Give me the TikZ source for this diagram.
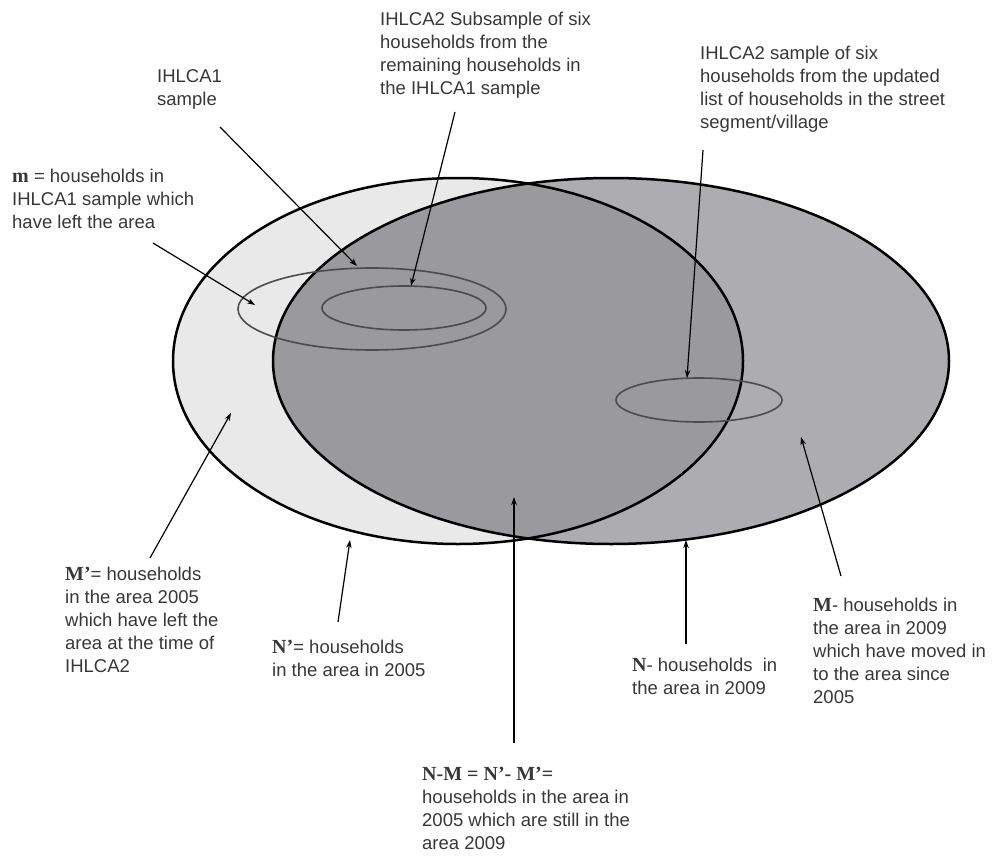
\documentclass[tikz,border=0pt]{standalone}
\usepackage{fontspec}
\setmainfont{Liberation Sans}
\newfontfamily\symfont{Liberation Serif}
\usetikzlibrary{arrows.meta}

\definecolor{oldarea}{RGB}{233,233,233}
\definecolor{newarea}{RGB}{173,173,177}
\definecolor{botharea}{RGB}{153,153,158}
\definecolor{txt}{RGB}{55,55,55}

\newcommand{\sym}[1]{{\symfont\bfseries\fontsize{20}{23}\selectfont #1}}

\begin{document}
\begin{tikzpicture}[
            x=1pt, y=-1pt,
            lab/.style={anchor=north west,inner sep=0pt,align=left,text=txt,
                        font=\fontsize{18.5}{23}\selectfont},
            border/.style={draw=black,line width=2.5pt},
            samp/.style={draw=black!70,line width=1.6pt},
            arr/.style={-{Stealth[length=8pt,width=5.5pt]},line width=1.2pt}
        ]

        \useasboundingbox (0,0) rectangle (995,856);

        % the two areas, 2005 (left) and 2009 (right)
        \fill[oldarea] (458,361) ellipse [x radius=285pt, y radius=183pt];
        \fill[newarea] (611,361) ellipse [x radius=338pt, y radius=183pt];
        \begin{scope}
            \clip (458,361) ellipse [x radius=285pt, y radius=183pt];
            \fill[botharea] (611,361) ellipse [x radius=338pt, y radius=183pt];
        \end{scope}
        \draw[border] (458,361) ellipse [x radius=285pt, y radius=183pt];
        \draw[border] (611,361) ellipse [x radius=338pt, y radius=183pt];

        % samples
        \draw[samp] (372,309) ellipse [x radius=134pt, y radius=41pt];
        \draw[samp] (404,308) ellipse [x radius=82pt, y radius=22pt];
        \draw[samp] (699,400) ellipse [x radius=83pt, y radius=22pt];

        % labels
        \node[lab] (ihlcaone) at (157,69) {IHLCA1\\sample};
        \node[lab] (subsample) at (380,12) {IHLCA2 Subsample of six\\households from the\\remaining households in\\the IHLCA1 sample};
        \node[lab] (updated) at (700,46) {IHLCA2 sample of six\\households from the updated\\list of households in the street\\segment/village};
        \node[lab] (left) at (12,169) {\sym{m} = households in\\IHLCA1 sample which\\have left the area};
        \node[lab] (mprime) at (65,567) {\sym{M’}= households\\in the area 2005\\which have left the\\area at the time of\\IHLCA2};
        \node[lab] (nprime) at (272,640) {\sym{N’}= households\\in the area in 2005};
        \node[lab] (still) at (422,767) {\sym{N-M = N’- M’=}\\households in the area in\\2005 which are still in the\\area 2009};
        \node[lab] (nnew) at (632,658) {\sym{N}- households\ \ in\\the area in 2009};
        \node[lab] (mnew) at (813,598) {\sym{M}- households in\\the area in 2009\\which have moved in\\to the area since\\2005};

        % arrow ends
        \coordinate (ihlcaone-s) at (220,127);   \coordinate (ihlcaone-t) at (357,266);
        \coordinate (subsample-s) at (455,112);  \coordinate (subsample-t) at (411,286);
        \coordinate (updated-s) at (703,150);    \coordinate (updated-t) at (687,378);
        \coordinate (left-s) at (153,243);       \coordinate (left-t) at (255,305);
        \coordinate (mprime-s) at (150,558);     \coordinate (mprime-t) at (231,413);
        \coordinate (nprime-s) at (338,622);     \coordinate (nprime-t) at (350,540);
        \coordinate (still-s) at (514,743);      \coordinate (still-t) at (514,497);
        \coordinate (nnew-s) at (686,644);       \coordinate (nnew-t) at (686,540);
        \coordinate (mnew-s) at (841,576);       \coordinate (mnew-t) at (801,437);

        \path[arr]
        (ihlcaone-s) edge (ihlcaone-t)
        (subsample-s) edge (subsample-t)
        (updated-s) edge (updated-t)
        (left-s) edge (left-t)
        (mprime-s) edge (mprime-t)
        (nprime-s) edge (nprime-t)
        (still-s) edge (still-t)
        (nnew-s) edge (nnew-t)
        (mnew-s) edge (mnew-t)
        ;

    \end{tikzpicture}
\end{document}
